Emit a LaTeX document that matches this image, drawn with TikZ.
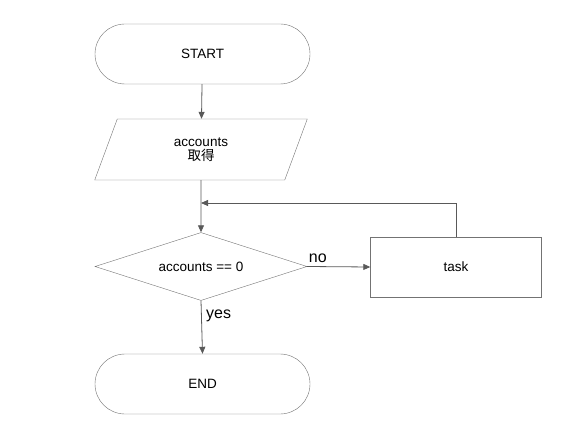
\documentclass[tikz,border=0pt]{standalone}
\usepackage{fontspec}
\setmainfont{Liberation Sans}
\newfontfamily\cjk{Noto Sans CJK JP}
\usepackage{xcolor}
\usetikzlibrary{shapes, arrows.meta, positioning}

\begin{document}
\begin{tikzpicture}[
  x=1pt, y=-1pt,
  terminal/.style={rectangle, draw=black!55, rounded corners=30pt, minimum width=215pt, minimum height=60pt, font=\fontsize{13.5}{15}\selectfont},
  io/.style={trapezium, trapezium left angle=75, trapezium right angle=105, trapezium stretches=true, draw=black!55, minimum width=214pt, minimum height=61pt, align=center, font=\fontsize{13.5}{15}\selectfont},
  decision/.style={diamond, draw=black!55, shape aspect=3.1, inner sep=0pt, minimum width=212pt, minimum height=68pt, font=\fontsize{13.5}{15}\selectfont},
  process/.style={rectangle, draw=black!55, minimum width=171pt, minimum height=60pt, font=\fontsize{13.5}{15}\selectfont},
  arrow/.style={-{Triangle[width=6pt,length=7pt]}, draw=black!65, line width=0.8pt},
  lbl/.style={font=\fontsize{16}{18}\selectfont}
]
\useasboundingbox (0,0) rectangle (572,443);

% Start and input
\node[terminal] (start) at (202.5, 54) {START};
\node[io] (input) at (201, 149.5) {accounts\\[-1pt]{\cjk 取得}};

% Condition and task
\node[decision] (cond) at (201, 266.5) {accounts == 0};
\node[process] (task) at (456, 267) {task};
\coordinate (merge) at (201, 203);

% End
\node[terminal] (end) at (202.5, 384) {END};

% Connections
\draw[arrow] (start) -- (input);
\draw[arrow] (input) -- (cond);
\draw[arrow] (cond.east) -- node[lbl, pos=0, above right, xshift=-2pt]{no} (task.west);
\draw[arrow] (task.north) |- (merge);
\draw[arrow] (cond.south) -- node[lbl, pos=0.28, right, xshift=1pt]{yes} (end.north);

\end{tikzpicture}
\end{document}
